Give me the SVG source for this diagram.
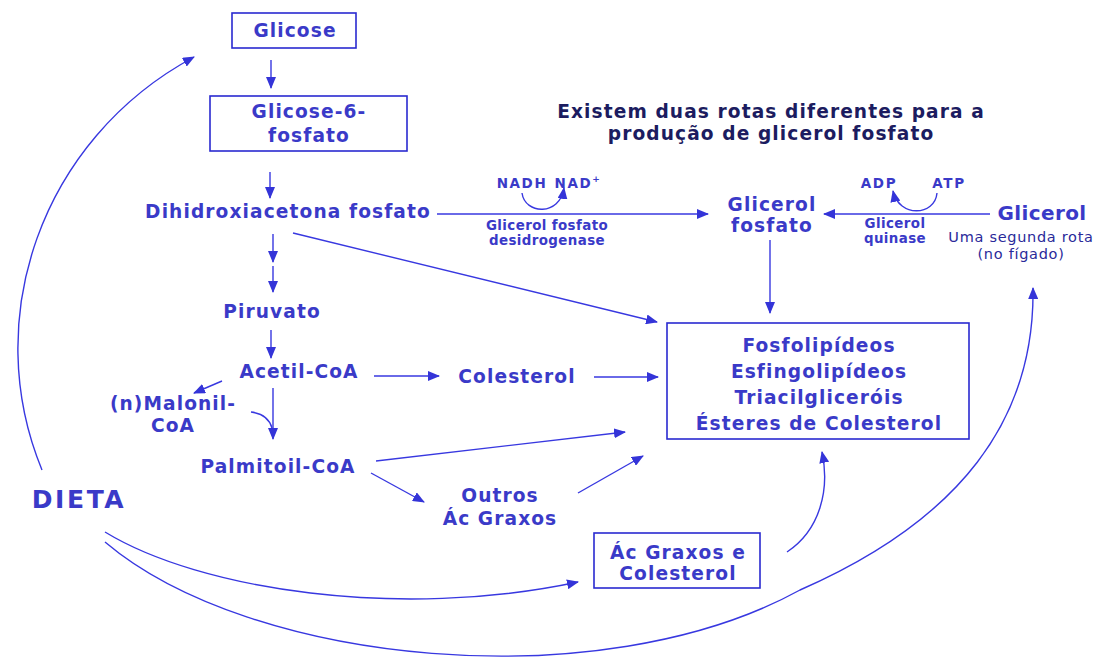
<svg xmlns="http://www.w3.org/2000/svg" width="1095" height="659" viewBox="0 0 1095 659">
<defs>
<marker id="ah" markerUnits="userSpaceOnUse" markerWidth="12" markerHeight="10" refX="11" refY="5" orient="auto">
<path d="M0,0 L12,5 L0,10 Z" fill="#3434d8"/>
</marker>
<style>
.t{font-family:"DejaVu Sans",Verdana,sans-serif;font-weight:bold;fill:#3a3ac8;text-anchor:middle}
.m{font-size:18.6px;letter-spacing:1.1px}
.s{font-size:13.4px;letter-spacing:0.4px}
.k{font-size:13.5px;letter-spacing:1.6px}
.n{font-family:"DejaVu Sans",Verdana,sans-serif;font-weight:normal;fill:#2a2a9a;font-size:14.5px;letter-spacing:0.7px;text-anchor:middle}
.box{fill:#fff;stroke:#2a2ad0;stroke-width:1.6}
.c path,.c line{stroke:#3838e0;stroke-width:1.4;fill:none}
.ar{marker-end:url(#ah)}
</style>
</defs>
<rect width="1095" height="659" fill="#fff"/>
<g class="c" id="connectors">
<line class="ar" x1="271" y1="60" x2="271" y2="88"/>
<line class="ar" x1="270" y1="172" x2="270" y2="198"/>
<line class="ar" x1="273" y1="234" x2="273" y2="262"/>
<line class="ar" x1="273" y1="266" x2="273" y2="292"/>
<line class="ar" x1="271" y1="330" x2="271" y2="358"/>
<line class="ar" x1="222" y1="381" x2="194" y2="393"/>
<line class="ar" x1="273" y1="388" x2="273" y2="439"/>
<path d="M251,412 Q268,414 272,428"/>
<line class="ar" x1="374" y1="376" x2="439" y2="376"/>
<line class="ar" x1="594" y1="377" x2="658" y2="377"/>
<line class="ar" x1="293" y1="233" x2="657" y2="322"/>
<line class="ar" x1="376" y1="461" x2="625" y2="432"/>
<line class="ar" x1="371" y1="473" x2="424" y2="502"/>
<line class="ar" x1="578" y1="493" x2="643" y2="456"/>
<line class="ar" x1="770" y1="240" x2="770" y2="313"/>
<line class="ar" x1="437" y1="214" x2="708" y2="214"/>
<path class="ar" d="M522,193 C525,215 560,216 564,188"/>
<line class="ar" x1="990" y1="214" x2="824" y2="214"/>
<path class="ar" d="M937,193 C935,216 899,218 893,191"/>
<path class="ar" d="M787,552 C820,530 830,490 822,452"/>
<path class="ar" d="M42,470 C-20,320 40,140 194,57"/>
<path class="ar" d="M105,532 C200,590 400,620 578,582"/>
<path class="ar" d="M105,542 C250,665 600,700 800,590 C960,520 1035,420 1033,288"/>
</g>
<g id="glicose"><rect class="box" x="232" y="13" width="124" height="35"/><text class="t m" x="295" y="37">Glicose</text></g>
<g id="g6p"><rect class="box" x="210" y="96" width="197" height="55"/><text class="t m" x="309" y="118">Glicose-6-</text><text class="t m" x="309" y="142">fosfato</text></g>
<g id="dhap"><text class="t m" x="288" y="218">Dihidroxiacetona fosfato</text></g>
<g id="piruvato"><text class="t m" x="272" y="318">Piruvato</text></g>
<g id="acetil"><text class="t m" x="299" y="378">Acetil-CoA</text></g>
<g id="malonil"><text class="t m" x="173" y="410">(n)Malonil-</text><text class="t m" x="173" y="432">CoA</text></g>
<g id="palmitoil"><text class="t m" x="278" y="473">Palmitoil-CoA</text></g>
<g id="colesterol"><text class="t m" x="517" y="383">Colesterol</text></g>
<g id="outros"><text class="t m" x="500" y="502">Outros</text><text class="t m" x="500" y="525">Ác Graxos</text></g>
<g id="lipidios"><rect class="box" x="667" y="323" width="302" height="116"/>
<text class="t m" x="819" y="352">Fosfolipídeos</text>
<text class="t m" x="819" y="378">Esfingolipídeos</text>
<text class="t m" x="819" y="404">Triacilgliceróis</text>
<text class="t m" x="819" y="430">Ésteres de Colesterol</text></g>
<g id="glicerolfosfato"><text class="t m" x="772" y="211">Glicerol</text><text class="t m" x="772" y="232">fosfato</text></g>
<g id="glicerol"><text class="t" style="font-size:20px;letter-spacing:0.4px" x="1042" y="220">Glicerol</text>
<text class="n" x="1021" y="242">Uma segunda rota</text><text class="n" x="1021" y="259">(no fígado)</text></g>
<g id="enzima1"><text class="t k" x="522" y="188">NADH</text><text class="t k" x="578" y="188">NAD<tspan dy="-6" font-size="9">+</tspan></text>
<text class="t s" x="547" y="230">Glicerol fosfato</text><text class="t s" x="547" y="245">desidrogenase</text></g>
<g id="enzima2"><text class="t k" x="879" y="188">ADP</text><text class="t k" x="949" y="188">ATP</text>
<text class="t s" x="895" y="228">Glicerol</text><text class="t s" x="895" y="243">quinase</text></g>
<g id="acgraxos"><rect class="box" x="594" y="533" width="166" height="55"/><text class="t m" x="678" y="559">Ác Graxos e</text><text class="t m" x="678" y="580">Colesterol</text></g>
<g id="dieta"><text class="t" style="font-size:25px;letter-spacing:2.6px" x="79" y="508">DIETA</text></g>
<g id="titulo"><text class="t m" style="fill:#1c1c60" x="771" y="118">Existem duas rotas diferentes para a</text><text class="t m" style="fill:#1c1c60" x="771" y="140">produção de glicerol fosfato</text></g>
</svg>
